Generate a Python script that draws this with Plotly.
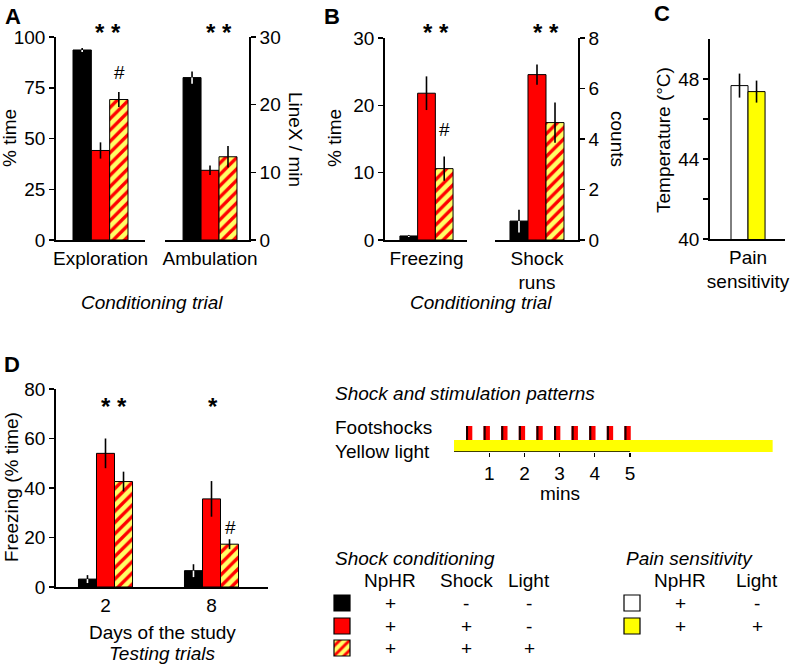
import plotly.graph_objects as go

W, H = 791, 666
FONT = "Arial, 'Liberation Sans', sans-serif"
FS = 19

# ---------------- data ----------------
# series order: NpHR only (black), NpHR+Shock (red), NpHR+Shock+Light (hatched)
a_explore_cat = ["Exploration"]
a_explore = [93.6, 44.1, 69.2]
a_explore_err = [1.0, 4.0, 3.7]

a_ambul_cat = ["Ambulation"]
a_ambul = [24.0, 10.3, 12.3]
a_ambul_err = [0.9, 0.7, 1.6]

b_freeze_cat = ["Freezing"]
b_freeze = [0.6, 21.8, 10.6]
b_freeze_err = [0.15, 2.5, 1.8]

b_shock_cat = ["Shock<br>runs"]
b_shock = [0.75, 6.55, 4.65]
b_shock_err = [0.45, 0.4, 0.8]

c_cat = ["Pain<br>sensitivity"]
c_vals = [47.67, 47.37]          # NpHR no light (white), NpHR + light (yellow)
c_err = [0.6, 0.55]

d_days = ["2", "8"]
d_black = [3.2, 6.6]
d_red = [54.0, 35.6]
d_hatch = [42.6, 17.3]
d_black_err = [1.6, 2.6]
d_red_err = [6.0, 7.2]
d_hatch_err = [4.0, 2.0]

shock_times = [0.43, 0.93, 1.43, 1.93, 2.43, 2.93, 3.43, 3.93, 4.43, 4.93]
light_duration = 9.05
schematic_ticks = [1, 2, 3, 4, 5]

sc_headers = ["NpHR", "Shock", "Light"]
sc_rows = [["+", "-", "-"], ["+", "+", "-"], ["+", "+", "+"]]
ps_headers = ["NpHR", "Light"]
ps_rows = [["+", "-"], ["+", "+"]]

# ---------------- styles ----------------
BLACK = dict(color="black", line=dict(color="black", width=1))
RED = dict(color="#ff0000", line=dict(color="black", width=1))
HATCH = dict(color="#ff0000", line=dict(color="black", width=1),
             pattern=dict(shape="/", bgcolor="#ffff66", fgcolor="#ff0000",
                          fgopacity=1, size=8, solidity=0.42))
WHITE = dict(color="white", line=dict(color="black", width=1))
YELLOW = dict(color="#ffff00", line=dict(color="black", width=1))


def px(x):
    return x / W


def py(y):
    return 1 - y / H


fig = go.Figure()


def add_bars(ax, series, errs, styles, ncat, w, white_inside=None):
    """series: list (per series) of lists (per category)."""
    n = len(series)
    xa = "x" if ax == 1 else f"x{ax}"
    ya = "y" if ax == 1 else f"y{ax}"
    for k in range(n):
        xs = [i + (k - (n - 1) / 2) * w for i in range(ncat)]
        vals = series[k]
        e = errs[k]
        if white_inside is not None and white_inside[k]:
            err = dict(type="data", symmetric=False, array=e,
                       arrayminus=[0] * len(e), color="black",
                       thickness=1.6, width=0)
        else:
            err = dict(type="data", array=e, color="black",
                       thickness=1.6, width=0)
        fig.add_trace(go.Bar(x=xs, y=vals, width=w, marker=styles[k],
                             error_y=err, xaxis=xa, yaxis=ya,
                             showlegend=False))
        if white_inside is not None and white_inside[k]:
            fig.add_trace(go.Scatter(
                x=xs, y=vals, mode="markers", marker=dict(size=1, opacity=0),
                error_y=dict(type="data", symmetric=False, array=[0] * len(e),
                             arrayminus=e, color="white", thickness=1.6,
                             width=0),
                xaxis=xa, yaxis=ya, showlegend=False, hoverinfo="skip"))


def one(v):
    return [[x] for x in v]


styles3 = [BLACK, RED, HATCH]
wi = [True, False, False]

add_bars(1, one(a_explore), one(a_explore_err), styles3, 1, 0.206, wi)
add_bars(2, one(a_ambul), one(a_ambul_err), styles3, 1, 0.214, wi)
add_bars(3, one(b_freeze), one(b_freeze_err), styles3, 1, 0.216, wi)
add_bars(4, one(b_shock), one(b_shock_err), styles3, 1, 0.217, wi)
add_bars(5, one(c_vals), one(c_err), [WHITE, YELLOW], 1, 0.227)
add_bars(6, [d_black, d_red, d_hatch], [d_black_err, d_red_err, d_hatch_err],
         styles3, 2, 0.17, wi)

# ---------- schematic (axis 7) ----------
fig.add_trace(go.Bar(x=[light_duration], y=[6], base=0, width=12,
                     orientation="h", marker=dict(color="#ffff00", line=dict(width=0)),
                     xaxis="x7", yaxis="y7", showlegend=False))
fig.add_trace(go.Bar(x=shock_times, y=[14] * len(shock_times), base=12, width=0.18,
                     marker=dict(color="#ff0000", line=dict(width=0)),
                     xaxis="x7", yaxis="y7", showlegend=False))
fig.add_trace(go.Bar(x=[t - 0.06 for t in shock_times], y=[14] * len(shock_times),
                     base=12, width=0.06,
                     marker=dict(color="#1a0000", line=dict(width=0)),
                     xaxis="x7", yaxis="y7", showlegend=False))
fig.add_trace(go.Scatter(x=[0, schematic_ticks[-1]], y=[0, 0], mode="lines",
                         line=dict(color="black", width=1.5), cliponaxis=False,
                         xaxis="x7", yaxis="y7", showlegend=False,
                         hoverinfo="skip"))

# ---------- legend swatches (axis 8, pixel space) ----------
sw = [(342, 603, BLACK), (342, 626, RED), (342, 648, HATCH),
      (632, 603, WHITE), (632, 626, YELLOW)]
for cx, cy, st in sw:
    m = dict(st)
    m["line"] = dict(color="black", width=1.2)
    if "pattern" in m:
        m["pattern"] = dict(m["pattern"], size=7)
    fig.add_trace(go.Bar(x=[cx], y=[16], base=cy - 8, width=16, marker=m,
                         xaxis="x8", yaxis="y8", showlegend=False))

# ---------------- axes ----------------
tickfont = dict(family=FONT, size=FS, color="black")


def xax(x0, x1, y0, y1, rng, vals, text, anchor):
    return dict(domain=[px(x0), px(x1)], range=rng, tickvals=vals, ticktext=text,
                showline=True, linecolor="black", linewidth=1.8, ticks="",
                showgrid=False, zeroline=False, tickfont=tickfont,
                anchor=anchor, fixedrange=True, automargin=False)


def yax(y0, y1, rng, vals, anchor, side="left"):
    return dict(domain=[py(y1), py(y0)], range=rng, tickvals=vals,
                showline=True, linecolor="black", linewidth=1.8,
                ticks="outside", ticklen=5, tickwidth=1.5, tickcolor="black",
                showgrid=False, zeroline=False, tickfont=tickfont,
                anchor=anchor, side=side, fixedrange=True, automargin=False)


layout = dict(
    width=W, height=H, margin=dict(l=0, r=0, t=0, b=0, autoexpand=False),
    paper_bgcolor="white", plot_bgcolor="rgba(0,0,0,0)",
    barmode="overlay", showlegend=False, hovermode=False,
    font=dict(family=FONT, size=FS, color="black"),
)
layout["xaxis"] = xax(56, 145, 37, 240, [-0.5, 0.5], [0], a_explore_cat, "y")
layout["yaxis"] = yax(37, 240, [0, 100], [0, 25, 50, 75, 100], "x")
layout["xaxis2"] = xax(165, 249, 37, 240, [-0.536, 0.464], [0], a_ambul_cat, "y2")
layout["yaxis2"] = yax(37, 240, [0, 30], [0, 10, 20, 30], "x2", "right")
layout["xaxis3"] = xax(385, 467, 38, 240, [-0.506, 0.494], [0], b_freeze_cat, "y3")
layout["yaxis3"] = yax(38, 240, [0, 30], [0, 10, 20, 30], "x3")
layout["xaxis4"] = xax(495, 578, 38, 240, [-0.506, 0.494], [0], b_shock_cat, "y4")
layout["yaxis4"] = yax(38, 240, [0, 8], [0, 2, 4, 6, 8], "x4", "right")
layout["xaxis5"] = xax(710, 785, 39, 239, [-0.507, 0.493], [0], c_cat, "y5")
layout["yaxis5"] = yax(39, 239, [40, 50], [40, 44, 48], "x5")
layout["yaxis5"]["minor"] = dict(tickvals=[42, 46], ticks="outside", ticklen=5,
                                 tickwidth=1.5, tickcolor="black", showgrid=False)
layout["xaxis6"] = xax(56, 268, 389, 587, [-0.467, 1.533], [0, 1], d_days, "y6")
layout["yaxis6"] = yax(389, 587, [0, 80], [0, 20, 40, 60, 80], "x6")

layout["xaxis7"] = dict(domain=[px(454), px(773)], range=[0, 9.06],
                        tickvals=schematic_ticks, showline=False, ticks="outside",
                        ticklen=4, tickwidth=1.2, tickcolor="black",
                        showgrid=False, zeroline=False, tickfont=tickfont,
                        anchor="y7", fixedrange=True, automargin=False)
layout["yaxis7"] = dict(domain=[py(452), py(424)], range=[0, 28], visible=False,
                        anchor="x7", fixedrange=True, automargin=False)
layout["xaxis8"] = dict(domain=[0, 1], range=[0, W], visible=False, anchor="y8",
                        fixedrange=True, automargin=False)
layout["yaxis8"] = dict(domain=[0, 1], range=[H, 0], visible=False, anchor="x8",
                        fixedrange=True, automargin=False)

# ---------------- annotations ----------------
anns = []


def ann(text, x, y, size=FS, italic=False, bold=False, angle=0, xanchor="center"):
    t = text
    if bold:
        t = f"<b>{t}</b>"
    if italic:
        t = f"<i>{t}</i>"
    anns.append(dict(text=t, x=px(x), y=py(y), xref="paper", yref="paper",
                     showarrow=False, xanchor=xanchor, yanchor="middle",
                     textangle=angle,
                     font=dict(family=FONT, size=size, color="black")))


# panel letters
ann("A", 13, 16, 22, bold=True)
ann("B", 332, 16, 22, bold=True)
ann("C", 662, 14, 22, bold=True)
ann("D", 12, 364, 22, bold=True)

# significance marks
for x, y, s in [(108, 32, "* *"), (219, 32, "* *"), (436, 32, "* *"),
                (546, 32, "* *"), (114, 406, "* *"), (213, 406, "*")]:
    ann(s, x, y, 24, bold=True)
for x, y in [(119, 72), (445, 130), (230, 527)]:
    ann("#", x, y, FS)

# axis titles
ann("% time", 9, 138, angle=-90)
ann("LineX / min", 296, 139, angle=90)
ann("% time", 334, 138, angle=-90)
ann("counts", 618, 139, angle=90)
ann("Temperature (°C)", 663, 140, angle=-90)
ann("Freezing (% time)", 11, 487, angle=-90)

ann("Conditioning trial", 152, 302, italic=True)
ann("Conditioning trial", 481, 302, italic=True)
ann("Days of the study", 162, 632)
ann("Testing trials", 162, 653, italic=True)

# schematic
ann("Shock and stimulation patterns", 333, 393, italic=True, xanchor="left")
ann("Footshocks", 333, 428, xanchor="left")
ann("Yellow light", 333, 451, xanchor="left")
ann("mins", 560, 493)

# legend table
ann("Shock conditioning", 333, 558, italic=True, xanchor="left")
ann("Pain sensitivity", 624, 558, italic=True, xanchor="left")
sc_cols = [390, 466, 529]
ps_cols = [680, 757]
row_y = [603, 626, 648]
for h, cx in zip(sc_headers, sc_cols):
    ann(h, cx, 580)
for h, cx in zip(ps_headers, ps_cols):
    ann(h, cx, 580)
for r, row in enumerate(sc_rows):
    for s, cx in zip(row, sc_cols):
        ann(s, cx, row_y[r])
for r, row in enumerate(ps_rows):
    for s, cx in zip(row, ps_cols):
        ann(s, cx, row_y[r])

layout["annotations"] = anns
fig.update_layout(**layout)
fig.write_html("out.html",
               config={"displayModeBar": False, "staticPlot": True},
               post_script="document.body.style.margin='0';"
                           "document.body.style.overflow='hidden';")
